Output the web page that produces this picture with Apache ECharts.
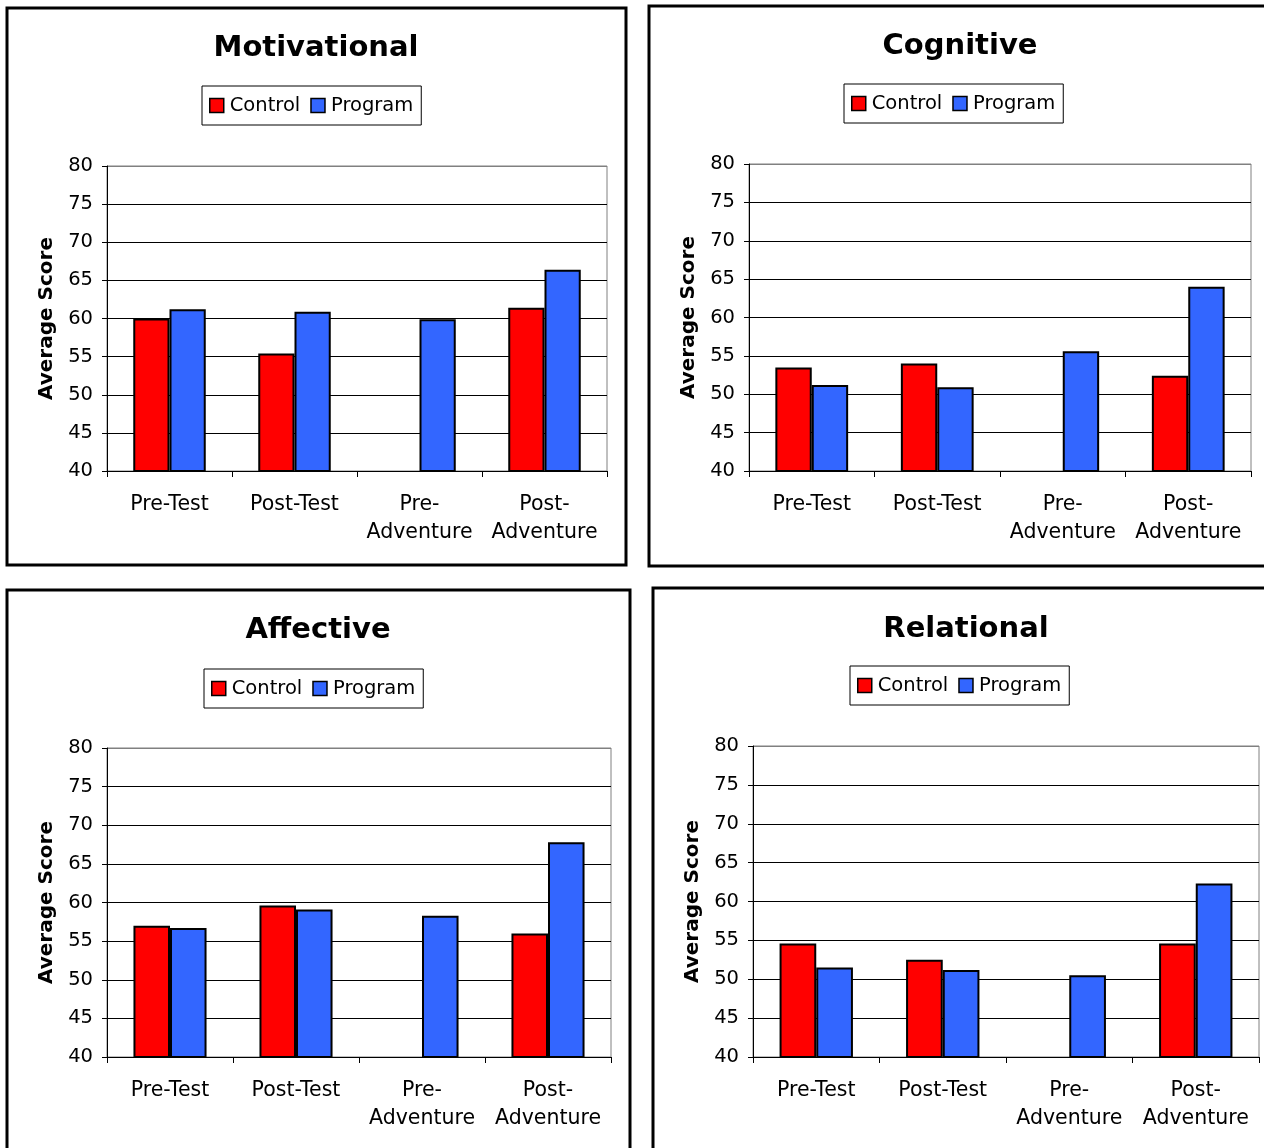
<!DOCTYPE html>
<html>
<head>
<meta charset="utf-8">
<title>Average Score by Domain</title>
<script src="https://cdn.jsdelivr.net/npm/echarts@6/dist/echarts.min.js"></script>
<style>
  html, body { margin: 0; padding: 0; background: #fff; }
  #chart { width: 1264px; height: 1148px; }
</style>
</head>
<body>
<div id="chart"></div>
<script>
// ---- data ----
const categories = ['Pre-Test', 'Post-Test', 'Pre-\nAdventure', 'Post-\nAdventure'];
const seriesNames = ['Control', 'Program'];
const panelTitles = ['Motivational', 'Cognitive', 'Affective', 'Relational'];

const motivationalControl = [60.0, 55.4, null, 61.4];
const motivationalProgram = [61.2, 60.9, 59.9, 66.4];
const cognitiveControl    = [53.5, 54.0, null, 52.4];
const cognitiveProgram    = [51.2, 50.9, 55.6, 64.0];
const affectiveControl    = [57.0, 59.6, null, 56.0];
const affectiveProgram    = [56.7, 59.1, 58.3, 67.8];
const relationalControl   = [54.6, 52.5, null, 54.6];
const relationalProgram   = [51.5, 51.2, 50.5, 62.3];

const yMin = 40, yMax = 80, yStep = 5;
const yAxisTitle = 'Average Score';

// ---- layout of the four panels ----
const FONT = 'DejaVu Sans';
const panels = [
  { control: motivationalControl, program: motivationalProgram,
    frame: [7, 8, 619, 557], titlePos: [316, 47], legendPos: [202, 86],
    grid: { left: 107, top: 166, width: 500, height: 305 } },
  { control: cognitiveControl, program: cognitiveProgram,
    frame: [649, 6, 640, 560], titlePos: [960, 45], legendPos: [844, 84],
    grid: { left: 749, top: 164, width: 502, height: 307 } },
  { control: affectiveControl, program: affectiveProgram,
    frame: [7, 590, 623, 600], titlePos: [318, 629], legendPos: [204, 669],
    grid: { left: 107, top: 748, width: 504, height: 309 } },
  { control: relationalControl, program: relationalProgram,
    frame: [653, 588, 640, 600], titlePos: [966, 628], legendPos: [850, 666],
    grid: { left: 753, top: 746, width: 506, height: 311 } }
];

const colors = { Control: '#ff0000', Program: '#3366ff' };

const grids = [], xAxes = [], yAxes = [], series = [], legends = [], graphics = [];

// gridline colours: plot-area top edge is grey, inner lines black
const nTicks = (yMax - yMin) / yStep + 1;
const splitColors = [];
for (let i = 0; i < nTicks; i++) splitColors.push(i === nTicks - 1 ? '#808080' : '#000000');

panels.forEach((p, i) => {
  grids.push(Object.assign({
    show: true, borderColor: '#808080', borderWidth: 1, backgroundColor: 'transparent'
  }, p.grid));

  xAxes.push({
    type: 'category', gridIndex: i, data: categories,
    axisLine: { lineStyle: { color: '#000', width: 1 } },
    axisTick: { show: true, length: 6, alignWithLabel: false, lineStyle: { color: '#000' } },
    axisLabel: { interval: 0, margin: 20, color: '#000', fontFamily: FONT, fontSize: 20.5, lineHeight: 28 },
    splitLine: { show: false }
  });

  yAxes.push({
    type: 'value', gridIndex: i, min: yMin, max: yMax, interval: yStep,
    name: yAxisTitle, nameLocation: 'middle', nameGap: 50,
    nameTextStyle: { color: '#000', fontFamily: FONT, fontSize: 20, fontWeight: 'bold' },
    axisLine: { show: true, lineStyle: { color: '#000', width: 1 } },
    axisTick: { show: true, length: 5, lineStyle: { color: '#000' } },
    axisLabel: { margin: 14, color: '#000', fontFamily: FONT, fontSize: 19.5 },
    splitLine: { show: true, lineStyle: { color: splitColors, width: 1 } }
  });

  [['Control', p.control], ['Program', p.program]].forEach(([name, values]) => {
    series.push({
      type: 'bar', name: name, xAxisIndex: i, yAxisIndex: i,
      data: values.map(v => (v === null ? '-' : v)),
      barWidth: '29%', barGap: '0%',
      itemStyle: { color: colors[name], borderColor: '#000', borderWidth: 2 },
      emphasis: { disabled: true }
    });
  });

  legends.push({
    data: seriesNames, left: p.legendPos[0], top: p.legendPos[1],
    orient: 'horizontal', icon: 'rect', itemWidth: 14, itemHeight: 14, itemGap: 10,
    padding: [7, 8, 7, 7], borderColor: '#000', borderWidth: 1,
    itemStyle: { borderColor: '#000', borderWidth: 1.5 },
    textStyle: { color: '#000', fontFamily: FONT, fontSize: 19.5, lineHeight: 22, padding: [3, 0, 0, 1] },
    selectedMode: false
  });

  graphics.push({
    type: 'rect', silent: true, z: 100,
    shape: { x: p.frame[0], y: p.frame[1], width: p.frame[2], height: p.frame[3] },
    style: { fill: null, stroke: '#000', lineWidth: 3 }
  });
  graphics.push({
    type: 'text', silent: true, x: p.titlePos[0], y: p.titlePos[1] + 1,
    style: {
      text: panelTitles[i], fill: '#000', fontFamily: FONT, fontSize: 29, fontWeight: 'bold',
      textAlign: 'center', textVerticalAlign: 'middle'
    }
  });
});

const chart = echarts.init(document.getElementById('chart'), null, { renderer: 'canvas' });
chart.setOption({
  animation: false,
  backgroundColor: '#fff',
  grid: grids,
  xAxis: xAxes,
  yAxis: yAxes,
  legend: legends,
  series: series,
  graphic: graphics
});
</script>
</body>
</html>
